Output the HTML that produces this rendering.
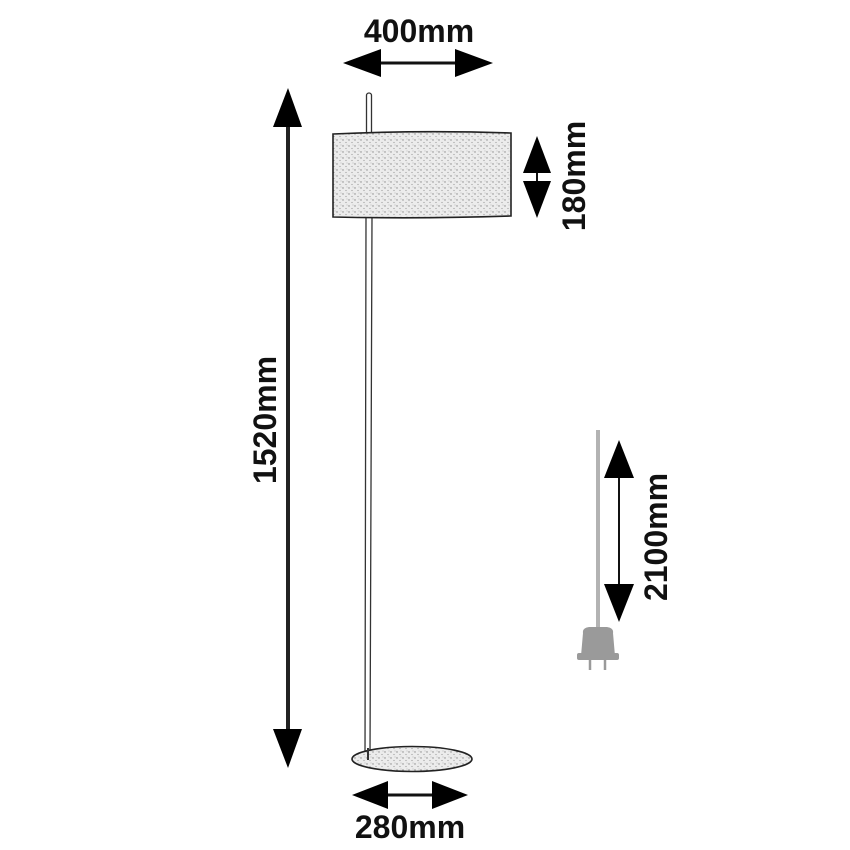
<!DOCTYPE html>
<html><head><meta charset="utf-8"><style>html,body{margin:0;padding:0;background:#fff}svg{display:block}</style></head>
<body>
<svg width="850" height="850" viewBox="0 0 850 850" xmlns="http://www.w3.org/2000/svg">
<defs>
<pattern id="dots" width="6" height="6" patternUnits="userSpaceOnUse">
<rect width="6" height="6" fill="#ececec"/>
<circle cx="1" cy="2" r="0.7" fill="#888"/><circle cx="4" cy="4.5" r="0.6" fill="#999"/><circle cx="5" cy="1" r="0.5" fill="#aaa"/>
</pattern>
</defs>
<g font-family="Liberation Sans, sans-serif" font-weight="bold" font-size="32" fill="#111">
<text x="419" y="42" text-anchor="middle">400mm</text>
<text x="410" y="838" text-anchor="middle">280mm</text>
<text transform="translate(276,420) rotate(-90)" text-anchor="middle">1520mm</text>
<text transform="translate(585,176) rotate(-90)" text-anchor="middle">180mm</text>
<text transform="translate(667,537) rotate(-90)" text-anchor="middle">2100mm</text>
</g>
<line x1="370" y1="63" x2="465" y2="63" stroke="#111" stroke-width="3"/>
<polygon points="343,63 381,49 381,77" fill="#000"/>
<polygon points="493,63 455,49 455,77" fill="#000"/>
<line x1="288" y1="120" x2="288" y2="735" stroke="#222" stroke-width="4"/>
<polygon points="288,88 273,127 302,127" fill="#000"/>
<polygon points="288,768 273,729 302,729" fill="#000"/>
<line x1="537" y1="160" x2="537" y2="195" stroke="#111" stroke-width="2"/>
<polygon points="537,136 523,173 551,173" fill="#000"/>
<polygon points="537,218 523,181 551,181" fill="#000"/>
<line x1="380" y1="795" x2="440" y2="795" stroke="#111" stroke-width="3"/>
<polygon points="352,795 388,781 388,809" fill="#000"/>
<polygon points="468,795 432,781 432,809" fill="#000"/>
<rect x="366.5" y="93" width="5" height="42" rx="2.5" fill="#fff" stroke="#333" stroke-width="1.3"/>
<polygon points="366,217 372,217 370,757 365,757" fill="#fff" stroke="#333" stroke-width="1.3"/>
<path d="M333,134 Q420,130 511,133 L511,216 Q420,219 333,217 Z" fill="url(#dots)" stroke="#222" stroke-width="1.6"/>
<ellipse cx="412" cy="759" rx="60" ry="12.5" fill="url(#dots)" stroke="#222" stroke-width="1.6"/>
<line x1="368" y1="748" x2="368" y2="760" stroke="#333" stroke-width="2"/>
<line x1="598" y1="430" x2="598" y2="632" stroke="#b3b3b3" stroke-width="4"/>
<path d="M583,633 Q582,628 589,627 L607,627 Q614,628 613,633 L615,656 L581,656 Z" fill="#9a9a9a"/>
<rect x="577" y="653" width="42" height="7" rx="2" fill="#9a9a9a"/>
<line x1="590" y1="660" x2="590" y2="670" stroke="#9a9a9a" stroke-width="2.5"/>
<line x1="605" y1="660" x2="605" y2="670" stroke="#9a9a9a" stroke-width="2.5"/>
<line x1="619" y1="470" x2="619" y2="590" stroke="#111" stroke-width="2"/>
<polygon points="619,440 604,478 634,478" fill="#000"/>
<polygon points="619,622 604,584 634,584" fill="#000"/>
</svg>
</body></html>
